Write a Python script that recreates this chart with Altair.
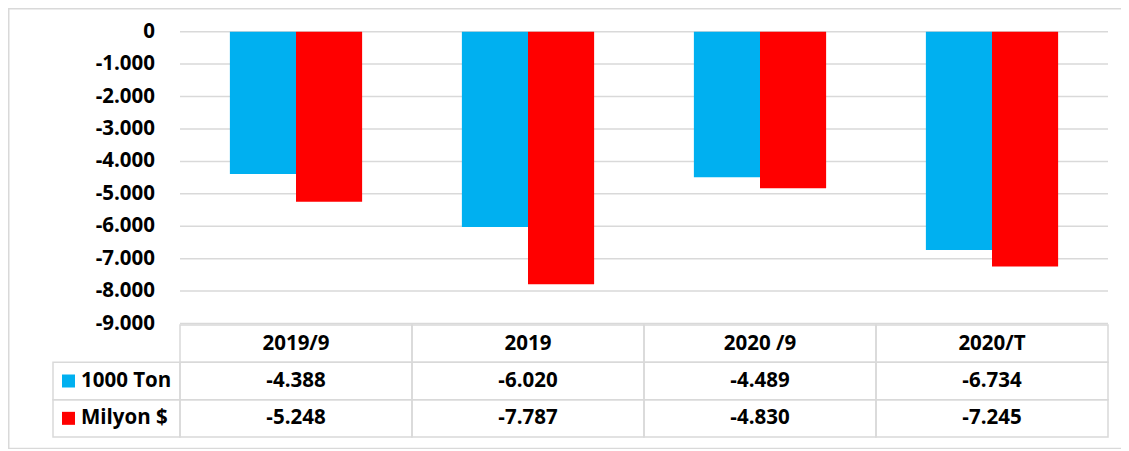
import altair as alt
import pandas as pd

# ---- data ----
categories = ["2019/9", "2019", "2020 /9", "2020/T"]
series_names = ["1000 Ton", "Milyon $"]
ton_values = [-4388, -6020, -4489, -6734]
usd_values = [-5248, -7787, -4830, -7245]
y_ticks = [0, -1000, -2000, -3000, -4000, -5000, -6000, -7000, -8000, -9000]
series_colors = ["#00B0F0", "#FF0000"]


def fmt(v):
    s = f"{abs(v):,}".replace(",", ".")
    return ("-" if v < 0 else "") + s


FONT = "Open Sans"
FS = 20.5
GRID = "#d9d9d9"
N = len(categories)
LEG = -127 / 232  # left edge of the legend column, in column units

# scales (explicit ranges so the independent layers line up)
X_COL = alt.Scale(domain=[0, N], range=[172, 1100], nice=False, zero=False)
Y_VAL = alt.Scale(domain=[-9000, 0], range=[315.5, 23.7], nice=False)
Y_ROW = alt.Scale(domain=[0, 3], range=[317, 429], nice=False, zero=False)

# ---- tables built from the arrays ----
bars_df = pd.DataFrame(
    [{"cat": c, "series": series_names[0], "value": v} for c, v in zip(categories, ton_values)]
    + [{"cat": c, "series": series_names[1], "value": v} for c, v in zip(categories, usd_values)]
)

grid_df = pd.DataFrame({"v": y_ticks, "c0": 0, "c1": N, "lab": [fmt(t) for t in y_ticks]})

cells = []
texts = []
for i, c in enumerate(categories):
    cells.append({"x0": i, "x1": i + 1, "r0": 0, "r1": 1})
    texts.append({"xc": i + 0.5, "rc": 0.5, "t": c})
for r, (name, vals) in enumerate(zip(series_names, [ton_values, usd_values]), start=1):
    cells.append({"x0": LEG, "x1": 0, "r0": r, "r1": r + 1})
    for i, v in enumerate(vals):
        cells.append({"x0": i, "x1": i + 1, "r0": r, "r1": r + 1})
        texts.append({"xc": i + 0.5, "rc": r + 0.5, "t": fmt(v)})
cells_df = pd.DataFrame(cells)
texts_df = pd.DataFrame(texts)

leg_df = pd.DataFrame({
    "series": series_names,
    "rc": [1.5, 2.5],
    "xs": LEG + 15.5 / 232,
    "xt": LEG + 28 / 232,
})

color_scale = alt.Scale(domain=series_names, range=series_colors)

# ---- layers ----
frame = alt.Chart(pd.DataFrame({"k": [0]})).mark_rect(
    stroke=GRID, strokeWidth=1.5, fillOpacity=0
).encode(
    x=alt.value(0.75), x2=alt.value(1300), y=alt.value(0.75), y2=alt.value(440.5)
)

grid = alt.Chart(grid_df).mark_rule(color=GRID, strokeWidth=1.5).encode(
    x=alt.X("c0:Q", scale=X_COL, axis=None),
    x2="c1:Q",
    y=alt.Y("v:Q", scale=Y_VAL, axis=None),
)

ylabels = alt.Chart(grid_df).mark_text(
    align="right", baseline="middle", dx=-25, font=FONT, fontSize=FS, fontWeight="bold", color="black"
).encode(
    x=alt.X("c0:Q", scale=X_COL, axis=None),
    y=alt.Y("v:Q", scale=Y_VAL, axis=None),
    text="lab:N",
)

bars = alt.Chart(bars_df).mark_bar().encode(
    x=alt.X(
        "cat:N",
        sort=categories,
        scale=alt.Scale(domain=categories, range=[172, 1100], paddingInner=0.43, paddingOuter=0.215),
        axis=None,
    ),
    xOffset=alt.XOffset("series:N", sort=series_names,
                        scale=alt.Scale(domain=series_names, paddingInner=0, paddingOuter=0)),
    y=alt.Y("value:Q", scale=Y_VAL, axis=None, stack=False),
    color=alt.Color("series:N", scale=color_scale, legend=None),
)

table_cells = alt.Chart(cells_df).mark_rect(stroke=GRID, strokeWidth=1.5, fillOpacity=0).encode(
    x=alt.X("x0:Q", scale=X_COL, axis=None),
    x2="x1:Q",
    y=alt.Y("r0:Q", scale=Y_ROW, axis=None),
    y2="r1:Q",
)

table_text = alt.Chart(texts_df).mark_text(
    align="center", baseline="middle", font=FONT, fontSize=FS, fontWeight="bold", color="black"
).encode(
    x=alt.X("xc:Q", scale=X_COL, axis=None),
    y=alt.Y("rc:Q", scale=Y_ROW, axis=None),
    text="t:N",
)

leg_sq = alt.Chart(leg_df).mark_square(size=169, opacity=1).encode(
    x=alt.X("xs:Q", scale=X_COL, axis=None),
    y=alt.Y("rc:Q", scale=Y_ROW, axis=None),
    color=alt.Color("series:N", scale=color_scale, legend=None),
)

leg_txt = alt.Chart(leg_df).mark_text(
    align="left", baseline="middle", font=FONT, fontSize=FS, fontWeight="bold", color="black"
).encode(
    x=alt.X("xt:Q", scale=X_COL, axis=None),
    y=alt.Y("rc:Q", scale=Y_ROW, axis=None),
    text="series:N",
)

chart = (
    alt.layer(frame, grid, bars, ylabels, table_cells, table_text, leg_sq, leg_txt)
    .resolve_scale(x="independent", y="independent")
    .properties(width=1113, height=441, padding=0, autosize=alt.AutoSizeParams(type="none"))
    .configure_view(strokeWidth=0)
    .configure(background="white")
)

chart.save("out.html", embed_options={"renderer": "svg", "actions": False})
